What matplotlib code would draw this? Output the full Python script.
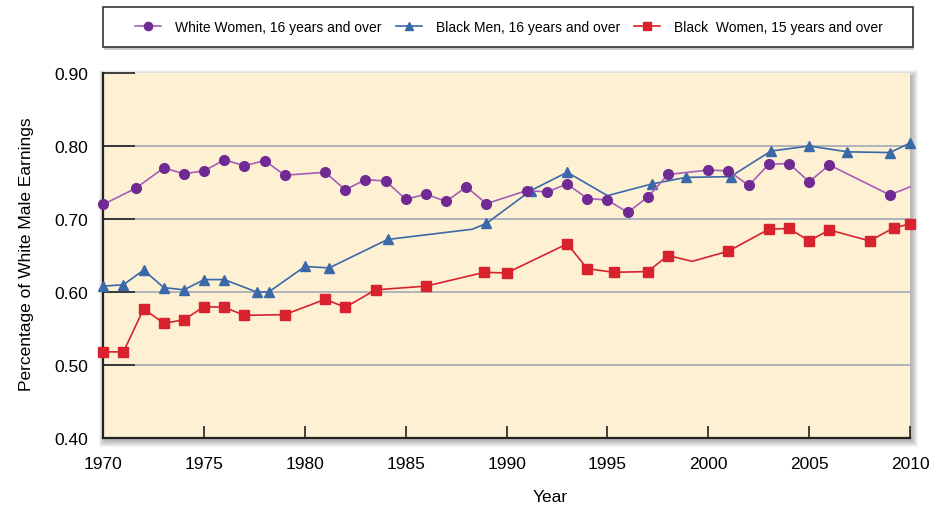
import matplotlib
matplotlib.use("Agg")
import matplotlib.pyplot as plt
from matplotlib.patches import Rectangle

plt.rcParams['font.family'] = ['Liberation Sans', 'DejaVu Sans']

# White Women, 16 years and over
ww_years = [1970, 1971.6, 1973, 1974, 1975, 1976, 1977, 1978, 1979, 1981, 1982, 1983,
            1984, 1985, 1986, 1987, 1988, 1989, 1991, 1992, 1993, 1994, 1995, 1996,
            1997, 1998, 2000, 2001, 2002, 2003, 2004, 2005, 2006, 2009, 2010]
ww_vals = [0.720, 0.742, 0.770, 0.762, 0.766, 0.781, 0.773, 0.780, 0.760, 0.764, 0.740, 0.754,
           0.752, 0.727, 0.734, 0.724, 0.744, 0.721, 0.739, 0.737, 0.748, 0.728, 0.726, 0.709,
           0.730, 0.761, 0.767, 0.766, 0.746, 0.775, 0.776, 0.751, 0.774, 0.733, 0.744]

# Black Men, 16 years and over
bm_years = [1970, 1971, 1972, 1973, 1974, 1975, 1976, 1977.6, 1978.2, 1980, 1981.2, 1984.1,
            1988.3, 1989, 1991.2, 1993, 1995, 1997.2, 1998.9, 2001.1, 2003.1, 2005, 2006.9,
            2009, 2010]
bm_vals = [0.608, 0.610, 0.630, 0.606, 0.603, 0.617, 0.617, 0.600, 0.600, 0.635, 0.633, 0.672,
           0.686, 0.694, 0.739, 0.764, 0.732, 0.748, 0.757, 0.758, 0.793, 0.800, 0.792,
           0.791, 0.804]

# Black Women, 15 years and over
bw_years = [1970, 1971, 1972, 1973, 1974, 1975, 1976, 1977, 1979, 1981, 1982, 1983.5,
            1986, 1988.9, 1990, 1993, 1994, 1995.3, 1997, 1998, 1999.2, 2001, 2003,
            2004, 2005, 2006, 2008, 2009.2, 2010]
bw_vals = [0.518, 0.518, 0.577, 0.557, 0.562, 0.580, 0.579, 0.568, 0.569, 0.590, 0.579, 0.603,
           0.608, 0.627, 0.626, 0.666, 0.632, 0.627, 0.628, 0.650, 0.642, 0.656, 0.686,
           0.687, 0.670, 0.685, 0.670, 0.688, 0.693]

# points drawn without a marker (line bends only)
ww_nomark = [2010]
bm_nomark = [1988.3, 1995]
bw_nomark = [1999.2]

x_ticks = [1970, 1975, 1980, 1985, 1990, 1995, 2000, 2005, 2010]
y_ticks = [0.40, 0.50, 0.60, 0.70, 0.80, 0.90]

purple_line = '#a55fb8'
purple_mark = '#6f2a93'
blue = '#3b68a8'
red = '#d8222e'

fig = plt.figure(figsize=(9.38, 5.10), dpi=100)
W, H = 938, 510
x0, y0 = 103.3 / W, 1 - 439 / H
w, h = (910 - 103.3) / W, (439 - 74) / H
ax = fig.add_axes([x0, y0, w, h])
ax.set_facecolor('#fdf0d3')

# soft drop shadow behind the plot area
for i in range(7):
    pad = i / W
    padv = i / H
    fig.patches.append(Rectangle((x0 + 2 / W - pad, y0 - 3 / H - padv), w + 2 * pad, h + 2 * padv,
                                 transform=fig.transFigure, facecolor='#000000', alpha=0.045,
                                 edgecolor='none', zorder=-5))


def mark_idx(years, skip):
    return [i for i, yr in enumerate(years) if yr not in skip]


ax.plot(ww_years, ww_vals, color=purple_line, lw=1.2, marker='o', ms=7,
        mfc=purple_mark, mec=purple_mark, markevery=mark_idx(ww_years, ww_nomark),
        label='White Women, 16 years and over', zorder=4, clip_on=False)
ax.plot(bm_years, bm_vals, color=blue, lw=1.2, marker='^', ms=7.5,
        mfc=blue, mec=blue, markevery=mark_idx(bm_years, bm_nomark),
        label='Black Men, 16 years and over', zorder=3, clip_on=False)
ax.plot(bw_years, bw_vals, color=red, lw=1.2, marker='s', ms=6.5,
        mfc=red, mec=red, markevery=mark_idx(bw_years, bw_nomark),
        label='Black  Women, 15 years and over', zorder=3, clip_on=False)

ax.set_xlim(1970, 2010)
ax.set_ylim(0.40, 0.90)
ax.set_xticks(x_ticks)
ax.set_yticks(y_ticks)
ax.set_xticklabels([str(t) for t in x_ticks])
ax.set_yticklabels(['%.2f' % t for t in y_ticks])
for g in y_ticks[1:-1]:
    ax.axhline(g, color='#9aa3b5', lw=1.1, zorder=1)

ax.tick_params(axis='y', direction='in', length=23, width=1.2, color='#222222',
               labelsize=12.5, pad=11)
ax.tick_params(axis='x', direction='in', length=9, width=1.2, color='#222222',
               labelsize=12.5, pad=13)

for side in ['top', 'right']:
    ax.spines[side].set_visible(False)
for side in ['left', 'bottom']:
    ax.spines[side].set_linewidth(1.6)
    ax.spines[side].set_color('#222222')

ax.set_xlabel('Year', fontsize=12.5)
ax.xaxis.set_label_coords((550 - 103.3) / 806.7, -(490 - 439) / 365)
ax.set_ylabel('Percentage of White Male Earnings', fontsize=12.5)
ax.yaxis.set_label_coords((34 - 103.3) / 806.7, (439 - 254) / 365)

# legend box
lx0, ly0 = 103 / W, 1 - 48 / H
lw_, lh = (913 - 103) / W, 40 / H
fig.patches.append(Rectangle((lx0 + 1 / W, ly0 - 3 / H), lw_, lh, transform=fig.transFigure,
                             facecolor='#999999', edgecolor='none', alpha=0.5, zorder=1))
fig.patches.append(Rectangle((lx0, ly0), lw_, lh, transform=fig.transFigure,
                             facecolor='white', edgecolor='#333333', lw=1.2, zorder=2))
handles, labels = ax.get_legend_handles_labels()
leg = fig.legend(handles, labels, loc='center', bbox_to_anchor=(509 / W, 1 - 28 / H),
                 ncol=3, frameon=False, fontsize=10, handlelength=1.9,
                 handletextpad=1.0, columnspacing=1.0, markerscale=0.85)
leg.set_zorder(3)

fig.savefig('out.png', dpi=100)
